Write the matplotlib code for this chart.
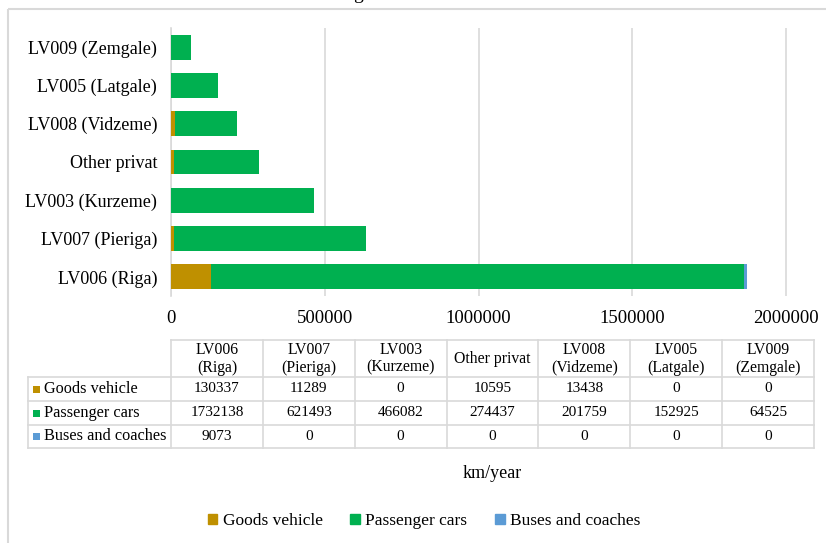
import matplotlib
matplotlib.use('Agg')
import matplotlib.pyplot as plt
from matplotlib.patches import Patch, Rectangle

plt.rcParams['font.family'] = ['Liberation Serif', 'DejaVu Serif']

# --- data ---
regions = ['LV006 (Riga)', 'LV007 (Pieriga)', 'LV003 (Kurzeme)', 'Other privat',
           'LV008 (Vidzeme)', 'LV005 (Latgale)', 'LV009 (Zemgale)']
table_headers = ['LV006\n(Riga)', 'LV007\n(Pieriga)', 'LV003\n(Kurzeme)', 'Other privat',
                 'LV008\n(Vidzeme)', 'LV005\n(Latgale)', 'LV009\n(Zemgale)']
series_names = ['Goods vehicle', 'Passenger cars', 'Buses and coaches']
goods = [130337, 11289, 0, 10595, 13438, 0, 0]
passenger = [1732138, 621493, 466082, 274437, 201759, 152925, 64525]
buses = [9073, 0, 0, 0, 0, 0, 0]
x_ticks = [0, 500000, 1000000, 1500000, 2000000]

colors = ['#BF9000', '#00B050', '#5B9BD5']
grid_c = '#D9D9D9'
W, H = 826, 543

fig = plt.figure(figsize=(W / 100, H / 100), dpi=100)

# main bar axes, placed in pixels
L, R, T, B = 171, 814, 28, 296
ax = fig.add_axes([L / W, 1 - B / H, (R - L) / W, (B - T) / H])

ypos = list(range(len(regions)))
left2 = [g + p for g, p in zip(goods, passenger)]
ax.barh(ypos, goods, height=0.65, color=colors[0], zorder=3)
ax.barh(ypos, passenger, left=goods, height=0.65, color=colors[1], zorder=3)
ax.barh(ypos, buses, left=left2, height=0.65, color=colors[2], zorder=3)

ax.set_xlim(0, 2000000 * (R - L) / (786 - L))
ax.set_ylim(-0.5, len(regions) - 0.5)
ax.set_xticks(x_ticks)
ax.set_xticklabels([str(v) for v in x_ticks], fontsize=13.5)
ax.set_yticks(ypos)
ax.set_yticklabels(regions, fontsize=13)
ax.tick_params(length=0)
ax.tick_params(axis='x', pad=10)
ax.tick_params(axis='y', pad=10)
ax.grid(axis='x', color=grid_c, linewidth=1.2, zorder=0)
for s in ['top', 'right', 'bottom']:
    ax.spines[s].set_visible(False)
ax.spines['left'].set_color(grid_c)
ax.spines['left'].set_linewidth(1.2)

# overlay in pixel coordinates for the frame, data table and labels
ov = fig.add_axes([0, 0, 1, 1])
ov.set_xlim(0, W)
ov.set_ylim(H, 0)
ov.axis('off')

ov.add_patch(Rectangle((8, 9), 830, 550, fill=False, edgecolor=grid_c, linewidth=1.5))

# title is cut off at the top edge in the original, only the descender shows
ov.text(358, -1, 'g', fontsize=14, ha='center', va='baseline', clip_on=False)

col_w = (R - L) / len(regions)
col_edges = [L + i * col_w for i in range(len(regions) + 1)]
lab_x = 28
ty_top, ty_head, ty_rows = 340, 377, [377, 401, 425, 448]

# table grid
ov.plot([L, R], [ty_top, ty_top], color=grid_c, lw=1.2)
for xe in col_edges:
    ov.plot([xe, xe], [ty_top, ty_rows[-1]], color=grid_c, lw=1.2)
ov.plot([lab_x, lab_x], [ty_head, ty_rows[-1]], color=grid_c, lw=1.2)
for yl in ty_rows:
    ov.plot([lab_x, R], [yl, yl], color=grid_c, lw=1.2)

for i, h in enumerate(table_headers):
    ov.text(L + (i + 0.5) * col_w, (ty_top + ty_head) / 2 + 0.5, h, ha='center', va='center',
            fontsize=11.3, linespacing=1.12)

rows = [goods, passenger, buses]
for r, (name, vals) in enumerate(zip(series_names, rows)):
    yc = (ty_rows[r] + ty_rows[r + 1]) / 2
    ov.add_patch(Rectangle((33, yc - 3.5), 7, 7, color=colors[r], linewidth=0))
    ov.text(44, yc, name, ha='left', va='center', fontsize=11.7)
    for i, v in enumerate(vals):
        ov.text(L + (i + 0.5) * col_w, yc, str(v), ha='center', va='center', fontsize=11)

ov.text(492, 473, 'km/year', ha='center', va='center', fontsize=13)

handles = [Patch(color=c, label=n) for c, n in zip(colors, series_names)]
fig.legend(handles=handles, loc='center', bbox_to_anchor=(424 / W, 1 - 521 / H), ncol=3,
           frameon=False, fontsize=12.5, handlelength=0.55, handleheight=0.55,
           handletextpad=0.3, columnspacing=1.6)

fig.savefig('out.png', dpi=100)
